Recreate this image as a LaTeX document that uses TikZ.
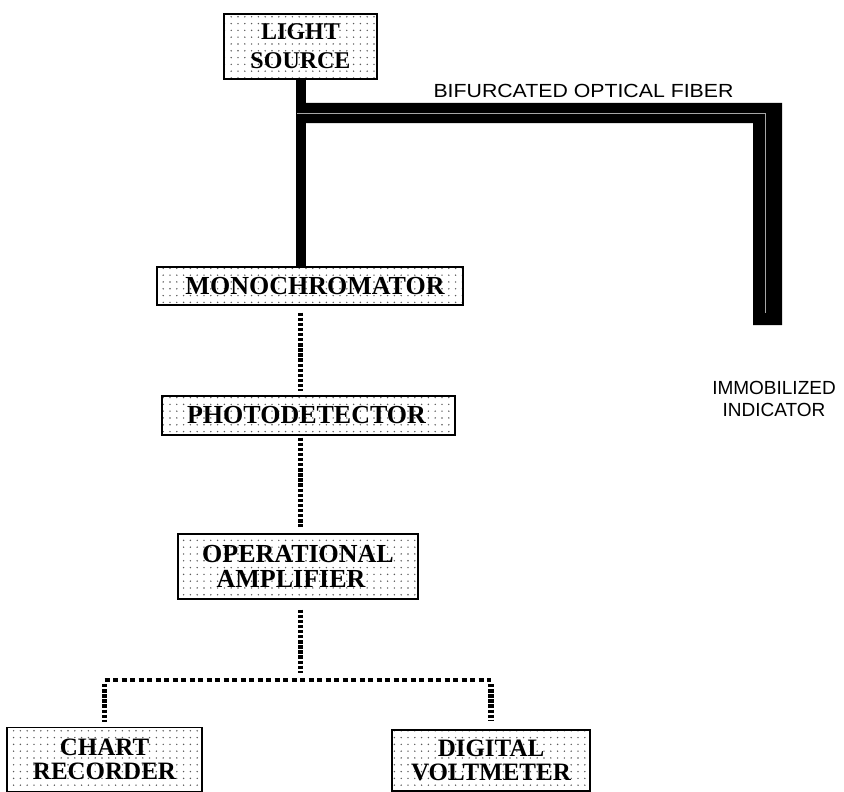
\documentclass[tikz,border=0pt]{standalone}
\usepackage{fontspec}
\setmainfont{Liberation Serif}
\newfontfamily\labfont{Liberation Sans}
\usetikzlibrary{patterns.meta}
\begin{document}
\begin{tikzpicture}[x=1pt,y=-1pt,
  box/.style={draw=black, line width=1.1pt,
    pattern={Dots[distance=6.8pt,radius=0.8pt]}, pattern color=black!65,
    inner sep=0pt, align=center, text=black,
    font=\bfseries\fontsize{26}{25}\selectfont},
  conn/.style={line width=5.5pt, dash pattern=on 3.4pt off 1.7pt, black},
  hconn/.style={line width=4.5pt, dash pattern=on 5pt off 3.5pt, black},
  lab/.style={font=\labfont\fontsize{19}{22}\selectfont, align=center, inner sep=0pt}]
\useasboundingbox (0,0) rectangle (844,792);

% boxes
\node[box, minimum width=153pt, minimum height=65pt,
      font=\bfseries\fontsize{24}{29}\selectfont] (ls) at (300.5,46.5) {LIGHT\\SOURCE};
\node[box, minimum width=306pt, minimum height=38pt] (mono) at (310,286) {\hspace*{10pt}MONOCHROMATOR};
\node[box, minimum width=293pt, minimum height=39pt] (photo) at (308.5,415.5) {PHOTODETECTOR\hspace*{4pt}};
\node[box, minimum width=240pt, minimum height=65pt] (opamp) at (298,566.5) {OPERATIONAL\\AMPLIFIER\hspace*{14pt}};
\node[box, minimum width=195pt, minimum height=64pt, font=\bfseries\fontsize{25}{23.5}\selectfont] (chart) at (104.5,759.5) {CHART\\RECORDER};
\node[box, minimum width=198pt, minimum height=61pt, font=\bfseries\fontsize{25}{23.5}\selectfont] (dvm) at (491,760.5) {DIGITAL\\VOLTMETER};

% bifurcated optical fiber
\coordinate (fend) at (767.5,325);
\draw[line width=10pt, black] (ls.south) -- (mono.north -| ls.south);
\fill[black] (306,103) -- (782,103) -- (782,325) -- (753,325) -- (753,123) -- (306,123) -- cycle;
\draw[black!35, line width=0.5pt] (297,113.5) -- (765,113.5) -- (765,313);
\node[lab, xscale=1.12] (fiberlab) at (583.5,91) {BIFURCATED OPTICAL FIBER};
\node[lab] (indic) at (774,399) {IMMOBILIZED\\INDICATOR};

% signal connectors
\draw[conn] ([yshift=-7pt]mono.south -| ls.south) -- ([yshift=4pt]photo.north -| ls.south);
\draw[conn] ([yshift=-2pt]photo.south -| ls.south) -- ([yshift=6pt]opamp.north -| ls.south);
\coordinate (br) at (300.5,680);
\draw[conn] ([yshift=-10pt]opamp.south -| ls.south) -- ([yshift=7pt]br);
\draw[hconn] (br -| chart) -- (br -| dvm);
\draw[conn] ([yshift=-4pt]br -| chart) -- ([yshift=5pt]chart.north);
\draw[conn] ([yshift=-4pt]br -| dvm) -- ([yshift=8pt]dvm.north);
\end{tikzpicture}
\end{document}
